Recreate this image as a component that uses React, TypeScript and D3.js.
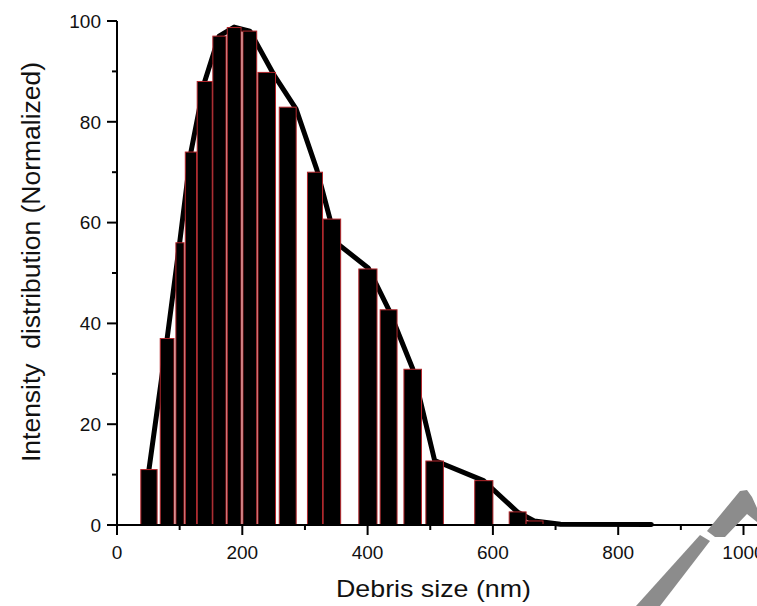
import React from 'react';
import * as d3 from 'd3';

// histogram bins (nm) and normalized intensity
const binStart = [38, 69, 94, 109, 128, 153, 176, 201, 225, 259, 304, 329, 386, 420, 458, 493, 571, 626, 653];
const binEnd = [64, 91, 107, 127, 152, 174, 198, 223, 253, 286, 328, 357, 415, 447, 486, 521, 600, 653, 680];
const binValue = [11, 37, 56, 74, 88, 97, 98.7, 98, 89.8, 82.9, 70, 60.7, 50.8, 42.7, 30.9, 12.7, 8.8, 2.6, 0.8];

// distribution curve
const lineSize = [51, 80, 100, 118, 140, 163, 187, 212, 252, 286, 319, 350, 401, 434, 472, 507, 585, 639, 666, 708, 853];
const lineValue = [11, 37, 56, 74, 88, 97, 98.8, 98, 89, 82.5, 70.5, 56, 51, 42.7, 31, 12.8, 8.8, 2.6, 0.8, 0.15, 0.1];

const xTicks = [0, 200, 400, 600, 800, 1000];
const xMinor = [100, 300, 500, 700, 900];
const yTicks = [0, 20, 40, 60, 80, 100];
const yMinor = [10, 30, 50, 70, 90];

const W = 757;
const H = 606;
const font = 'Arial, "Liberation Sans", sans-serif';

export default function App() {
  const x = d3.scaleLinear().domain([0, 1000]).range([117, 743.5]);
  const y = d3.scaleLinear().domain([0, 100]).range([525, 21]);

  const pts = lineSize.map((s, i) => [s, lineValue[i]] as [number, number]);
  const curve = d3
    .line<[number, number]>()
    .x((d) => x(d[0]))
    .y((d) => y(d[1]))(pts);

  return (
    <svg
      width={W}
      height={H}
      style={{ position: 'absolute', left: 0, top: 0, background: '#fff' }}
      fontFamily={font}
    >
      {/* curve under the bars */}
      <path d={curve || ''} fill="none" stroke="#000" strokeWidth={5} strokeLinejoin="round" strokeLinecap="round" />

      {binStart.map((s, i) => (
        <rect
          key={i}
          x={x(s)}
          y={y(binValue[i])}
          width={x(binEnd[i]) - x(s)}
          height={y(0) - y(binValue[i])}
          fill="#000"
          stroke="#b3262b"
          strokeWidth={1}
        />
      ))}

      {/* axes */}
      <line x1={x(0)} x2={W} y1={y(0)} y2={y(0)} stroke="#000" strokeWidth={2} />
      <line x1={x(0)} x2={x(0)} y1={y(0)} y2={y(100)} stroke="#000" strokeWidth={2} />

      {xTicks.map((t) => (
        <g key={'xt' + t}>
          <line x1={x(t)} x2={x(t)} y1={y(0)} y2={y(0) + 10} stroke="#000" strokeWidth={2} />
          <text x={x(t)} y={559} fontSize={19} textAnchor="middle" fill="#111">
            {t}
          </text>
        </g>
      ))}
      {xMinor.map((t) => (
        <line key={'xm' + t} x1={x(t)} x2={x(t)} y1={y(0)} y2={y(0) + 5} stroke="#000" strokeWidth={2} />
      ))}

      {yTicks.map((t) => (
        <g key={'yt' + t}>
          <line x1={x(0) - 10} x2={x(0)} y1={y(t)} y2={y(t)} stroke="#000" strokeWidth={2} />
          <text x={101} y={y(t)} dy="0.36em" fontSize={19} textAnchor="end" fill="#111">
            {t}
          </text>
        </g>
      ))}
      {yMinor.map((t) => (
        <line key={'ym' + t} x1={x(0) - 5} x2={x(0)} y1={y(t)} y2={y(t)} stroke="#000" strokeWidth={2} />
      ))}

      <text x={433.5} y={597} fontSize={24} textAnchor="middle" textLength={195} lengthAdjust="spacingAndGlyphs" fill="#111">
        Debris size (nm)
      </text>
      <text
        transform="translate(40,262) rotate(-90)"
        fontSize={26}
        textAnchor="middle"
        textLength={400}
        lengthAdjust="spacingAndGlyphs"
        fill="#111"
        style={{ whiteSpace: 'pre' }}
      >
        {'Intensity  distribution (Normalized)'}
      </text>

      {/* watermark fragments */}
      <polygon points="636,606 700,535 710,541 660,606" fill="#8c8c8c" />
      <polygon points="707,531 740,491 747,490 752,497 757,508 757,522 747,514 725,537 715,537" fill="#8c8c8c" />
    </svg>
  );
}
